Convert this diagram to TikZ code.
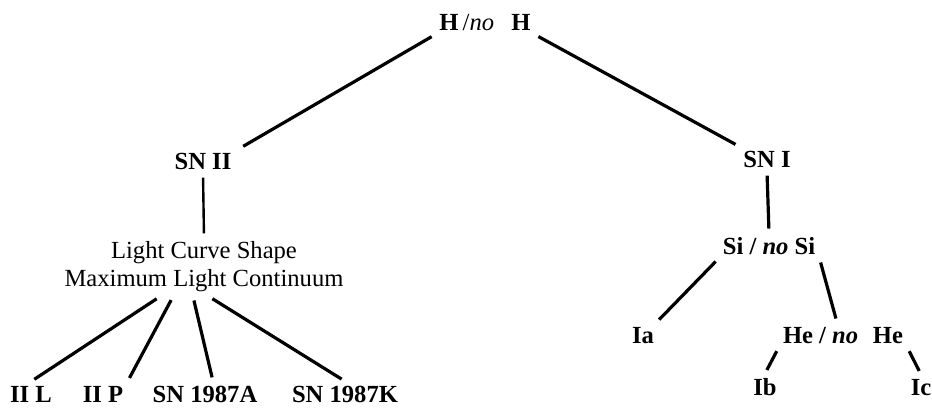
\documentclass[tikz,border=0pt]{standalone}
\usepackage{fontspec}
\setmainfont{Liberation Serif}
\usepackage{tikz}
\usetikzlibrary{positioning, calc}

\tikzset{
  lbl/.style={font=\fontsize{12.3}{14}\selectfont\bfseries, inner sep=2pt, anchor=base},
  txt/.style={font=\fontsize{12.3}{14}\selectfont, inner sep=2pt, align=center},
  edge/.style={line width=1.6pt, shorten <=2pt, shorten >=2pt}
}

\begin{document}
\begin{tikzpicture}[x=0.5pt, y=-0.5pt]
    \useasboundingbox (0,0) rectangle (932,408);

    % top of the tree
    \node[lbl] (top) at (485,30) {H\,\textmd{/\textit{no}}\hspace{0.7em}H};

    % type II branch
    \node[lbl] (snii) at (203,169) {SN II};
    \node[txt] (lc) at (204,267) {Light Curve Shape\\Maximum Light Continuum};
    \node[lbl] (iil) at (31,402)  {II L};
    \node[lbl] (iip) at (103,402) {II P};
    \node[lbl] (sna) at (205,402) {SN 1987A};
    \node[lbl] (snk) at (345,402) {SN 1987K};

    % type I branch
    \node[lbl] (sni) at (767,167) {SN I};
    \node[lbl] (si)  at (769,254) {Si / \textit{no} Si};
    \node[lbl] (ia)  at (643,343) {Ia};
    \node[lbl] (he)  at (843,343) {He / \textit{no}\hspace{0.6em}He};
    \node[lbl] (ib)  at (765,395) {Ib};
    \node[lbl] (ic)  at (921,395) {Ic};

    \draw[edge] (top.south west) -- ([xshift=2pt]snii.north east);
    \draw[edge] (top.south east) -- (sni.north west);

    \draw[edge, line width=1.2pt] (snii.south) -- (lc.north);
    \draw[edge] ([xshift=-22pt]lc.south) -- (iil.north);
    \draw[edge] ([xshift=-15.5pt]lc.south) -- (iip.north east);
    \draw[edge] ([xshift=-5.5pt]lc.south) -- ([xshift=4pt]sna.north);
    \draw[edge] ([xshift=2.5pt]lc.south) -- (snk.north);

    \draw[edge] (sni.south) -- (si.north);
    \draw[edge] (si.south west) -- ([xshift=-1pt]ia.north east);
    \draw[edge] (si.south east) -- ([xshift=-3pt]he.north);
    \draw[edge] (he.south west) -- (ib.north);
    \draw[edge] (he.south east) -- (ic.north);
\end{tikzpicture}
\end{document}
